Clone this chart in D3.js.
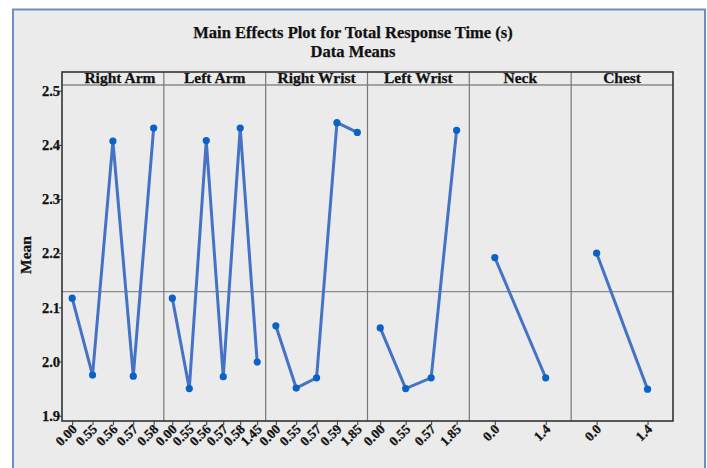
<!DOCTYPE html>
<html>
<head>
<meta charset="utf-8">
<script src="https://cdn.jsdelivr.net/npm/d3@7"></script>
<style>
  html, body { margin: 0; padding: 0; background: #fff; }
  svg { display: block; }
  text { font-family: "Liberation Serif", "Times New Roman", serif; font-weight: bold; fill: #111; stroke: #111; stroke-width: 0.25px; }
</style>
</head>
<body>
<div id="chart"></div>
<script>
// Factors (panels) and their levels
const factors = ['Right Arm', 'Left Arm', 'Right Wrist', 'Left Wrist', 'Neck', 'Chest'];
const levels = [
  ['0.00', '0.55', '0.56', '0.57', '0.58'],
  ['0.00', '0.55', '0.56', '0.57', '0.58', '1.45'],
  ['0.00', '0.55', '0.57', '0.59', '1.85'],
  ['0.00', '0.55', '0.57', '1.85'],
  ['0.0', '1.4'],
  ['0.0', '1.4']
];
// Data means per level
const means = [
  [2.117, 1.975, 2.407, 1.973, 2.431],
  [2.117, 1.950, 2.408, 1.972, 2.431, 1.999],
  [2.066, 1.951, 1.970, 2.441, 2.423],
  [2.062, 1.950, 1.970, 2.427],
  [2.192, 1.970],
  [2.200, 1.949]
];
const grandMean = 2.129;
const yTicks = [1.9, 2.0, 2.1, 2.2, 2.3, 2.4, 2.5];

const W = 707, H = 468;
const plot = { left: 62, right: 673, top: 72, strip: 85, bottom: 421 };

const svg = d3.select('#chart').append('svg')
  .attr('width', W)
  .attr('height', H);

// outer frame
svg.append('rect')
  .attr('x', 13).attr('y', 9.5)
  .attr('width', 692).attr('height', 470)
  .attr('fill', '#ebebeb')
  .attr('stroke', '#6f8cc6')
  .attr('stroke-width', 2);

// titles
svg.append('text')
  .attr('x', 353).attr('y', 38)
  .attr('text-anchor', 'middle')
  .attr('font-size', '16.5px')
  .text('Main Effects Plot for Total Response Time (s)');
svg.append('text')
  .attr('x', 353).attr('y', 57)
  .attr('text-anchor', 'middle')
  .attr('font-size', '16.5px')
  .text('Data Means');

// scales
const y = d3.scaleLinear()
  .domain([1.9, 2.5])
  .range([415.7, 90.7]);

const panelX = d3.scaleBand()
  .domain(factors)
  .range([plot.left, plot.right])
  .paddingInner(0).paddingOuter(0);

// y axis
const yAxis = d3.axisLeft(y)
  .tickValues(yTicks)
  .tickFormat(d3.format('.1f'))
  .tickSize(3)
  .tickSizeOuter(0);
const yg = svg.append('g')
  .attr('transform', `translate(${plot.left},0)`)
  .call(yAxis);
yg.select('.domain').remove();
yg.selectAll('.tick line').attr('stroke', '#333');
yg.selectAll('.tick text')
  .attr('font-size', '14.5px')
  .attr('font-family', '"Liberation Serif", serif')
  .attr('font-weight', 'bold')
  .attr('x', -2)
  .attr('fill', '#111');

svg.append('text')
  .attr('transform', 'translate(31,255) rotate(-90)')
  .attr('text-anchor', 'middle')
  .attr('font-size', '15.5px')
  .text('Mean');

// grand mean reference line
svg.append('line')
  .attr('x1', plot.left).attr('x2', plot.right)
  .attr('y1', y(grandMean)).attr('y2', y(grandMean))
  .attr('stroke', '#8a8a8a')
  .attr('stroke-width', 1.3);

// strip line
svg.append('line')
  .attr('x1', plot.left).attr('x2', plot.right)
  .attr('y1', plot.strip).attr('y2', plot.strip)
  .attr('stroke', '#8a8a8a')
  .attr('stroke-width', 1.3);

factors.forEach((f, i) => {
  const x0 = panelX(f);
  const bw = panelX.bandwidth();
  const x = d3.scalePoint()
    .domain(levels[i])
    .range([x0, x0 + bw])
    .padding(0.5);

  // panel divider
  if (i > 0) {
    svg.append('line')
      .attr('x1', x0).attr('x2', x0)
      .attr('y1', plot.top).attr('y2', plot.bottom)
      .attr('stroke', '#777')
      .attr('stroke-width', 1.2);
  }

  // header
  svg.append('text')
    .attr('x', x0 + bw / 2 + (i === 0 ? 7 : 0))
    .attr('y', plot.strip - 2)
    .attr('text-anchor', 'middle')
    .attr('font-size', '15.5px')
    .text(f);

  // x axis
  const xAxis = d3.axisBottom(x).tickSize(4).tickSizeOuter(0);
  const xg = svg.append('g')
    .attr('transform', `translate(0,${plot.bottom})`)
    .call(xAxis);
  xg.select('.domain').remove();
  xg.selectAll('.tick line').attr('stroke', '#333');
  xg.selectAll('.tick text')
    .attr('font-size', '13.5px')
    .attr('font-family', '"Liberation Serif", serif')
    .attr('font-weight', 'bold')
    .attr('fill', '#111')
    .attr('text-anchor', 'end')
    .attr('dy', null)
    .attr('y', 0)
    .attr('transform', 'translate(5,9) rotate(-45)');

  const pts = levels[i].map((l, j) => ({ l, v: means[i][j] }));

  svg.append('path')
    .datum(pts)
    .attr('fill', 'none')
    .attr('stroke', '#4472c4')
    .attr('stroke-width', 3)
    .attr('d', d3.line().x(d => x(d.l)).y(d => y(d.v)));

  svg.append('g')
    .selectAll('circle')
    .data(pts)
    .enter().append('circle')
    .attr('cx', d => x(d.l))
    .attr('cy', d => y(d.v))
    .attr('r', 3.6)
    .attr('fill', '#0b62c6');
});

// plot border
svg.append('rect')
  .attr('x', plot.left).attr('y', plot.top)
  .attr('width', plot.right - plot.left)
  .attr('height', plot.bottom - plot.top)
  .attr('fill', 'none')
  .attr('stroke', '#333')
  .attr('stroke-width', 1.6);
</script>
</body>
</html>
